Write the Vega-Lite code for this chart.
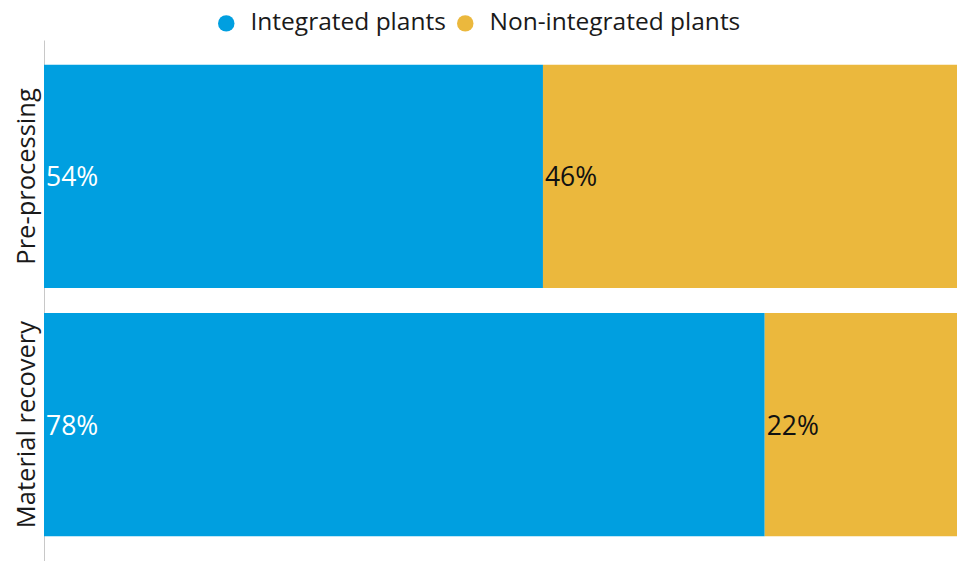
{
  "$schema": "https://vega.github.io/schema/vega-lite/v6.json",
  "autosize": "none",
  "width": 924,
  "height": 521,
  "padding": {"left": 44, "top": 40, "right": 0, "bottom": 0},
  "background": "white",
  "config": {
    "font": "Open Sans",
    "view": {"stroke": null}
  },
  "data": {
    "values": [
      {"stage": "Pre-processing", "type": "Integrated plants", "value": 54},
      {"stage": "Pre-processing", "type": "Non-integrated plants", "value": 46},
      {"stage": "Material recovery", "type": "Integrated plants", "value": 78},
      {"stage": "Material recovery", "type": "Non-integrated plants", "value": 22}
    ]
  },
  "transform": [
    {"stack": "value", "groupby": ["stage"], "sort": [{"field": "type", "order": "ascending"}], "as": ["v0", "v1"]},
    {"calculate": "datum.value + '%'", "as": "label"}
  ],
  "encoding": {
    "y": {
      "field": "stage",
      "type": "nominal",
      "sort": ["Pre-processing", "Material recovery"],
      "scale": {"paddingInner": 0.1, "paddingOuter": 0.1},
      "axis": {
        "title": null,
        "ticks": false,
        "labelAngle": -90,
        "labelAlign": "center",
        "labelBaseline": "bottom",
        "labelPadding": 5,
        "labelFontSize": 25.5,
        "labelColor": "#1a1a1a",
        "labelLimit": 400,
        "domainColor": "#c8c8c8",
        "domainWidth": 1
      }
    }
  },
  "layer": [
    {
      "mark": {"type": "bar"},
      "encoding": {
        "x": {"field": "v0", "type": "quantitative", "scale": {"domain": [0, 100], "nice": false}, "axis": null},
        "x2": {"field": "v1"},
        "color": {
          "field": "type",
          "type": "nominal",
          "scale": {"domain": ["Integrated plants", "Non-integrated plants"], "range": ["#009fe0", "#ebb83d"]},
          "legend": {
            "title": null,
            "orient": "none",
            "direction": "horizontal",
            "legendX": 170,
            "legendY": -29,
            "symbolType": "circle",
            "symbolSize": 270,
            "symbolStrokeWidth": 0,
            "labelFontSize": 24.5,
            "labelColor": "#1a1a1a",
            "labelOffset": 12,
            "columnPadding": 7,
            "labelLimit": 400
          }
        }
      }
    },
    {
      "mark": {"type": "text", "align": "left", "baseline": "middle", "dx": 2, "dy": 2, "fontSize": 26.5},
      "encoding": {
        "x": {"field": "v0", "type": "quantitative"},
        "text": {"field": "label"},
        "color": {
          "condition": {"test": "datum.type === 'Integrated plants'", "value": "#ffffff"},
          "value": "#111111"
        }
      }
    }
  ]
}
